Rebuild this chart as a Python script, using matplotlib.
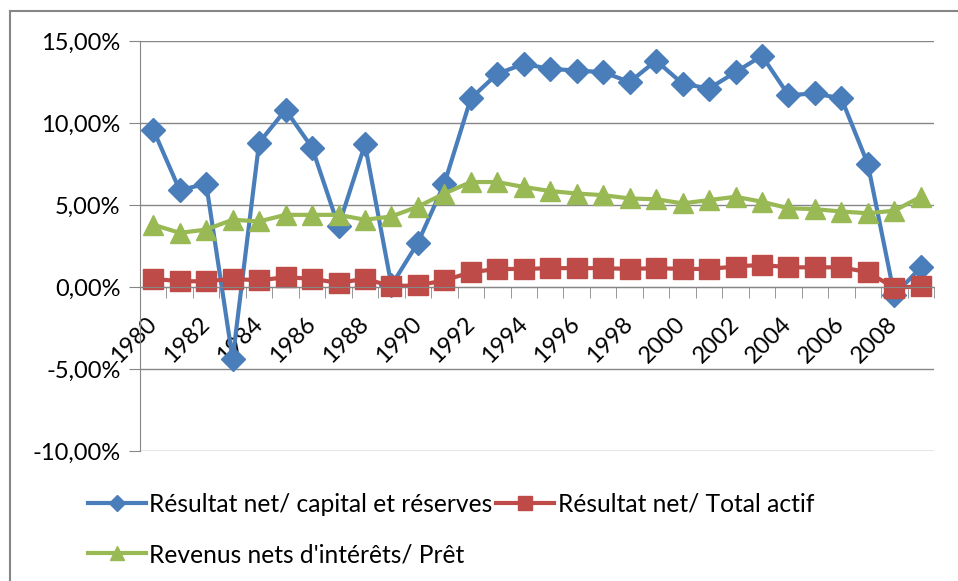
import matplotlib.pyplot as plt
from matplotlib.ticker import FuncFormatter
from matplotlib.lines import Line2D
import numpy as np

years = list(range(1980, 2010))
rn_capital = [9.6, 5.9, 6.3, -4.4, 8.8, 10.8, 8.5, 3.7, 8.7, 0.1,
              2.7, 6.3, 11.5, 13.0, 13.6, 13.3, 13.2, 13.1, 12.5, 13.8,
              12.4, 12.1, 13.1, 14.1, 11.7, 11.8, 11.5, 7.5, -0.5, 1.2]
rn_actif = [0.5, 0.35, 0.35, 0.5, 0.4, 0.6, 0.5, 0.25, 0.5, 0.05,
            0.1, 0.4, 0.9, 1.1, 1.1, 1.15, 1.15, 1.15, 1.1, 1.15,
            1.1, 1.1, 1.25, 1.35, 1.2, 1.2, 1.2, 0.9, -0.05, 0.05]
revenus_pret = [3.8, 3.3, 3.5, 4.1, 4.0, 4.4, 4.4, 4.4, 4.1, 4.3,
                4.9, 5.7, 6.4, 6.4, 6.1, 5.85, 5.7, 5.6, 5.4, 5.35,
                5.1, 5.3, 5.5, 5.2, 4.8, 4.75, 4.6, 4.5, 4.65, 5.5]

plt.rcParams['font.family'] = ['Lato', 'DejaVu Sans']
grey = '#868686'
fs = 17

fig = plt.figure(figsize=(9.58, 5.81), dpi=100)
ax = fig.add_axes([140/958, 1 - 451/581, 794/958, 410/581])

x = np.arange(len(years))
ax.plot(x, rn_capital, color='#4A7EBB', marker='D', ms=12, lw=3,
        label="Résultat net/ capital et réserves")
ax.plot(x, rn_actif, color='#BE4B48', marker='s', ms=15, lw=3,
        label="Résultat net/ Total actif")
ax.plot(x, revenus_pret, color='#98B954', marker='^', ms=14, lw=3,
        label="Revenus nets d'intérêts/ Prêt")

ax.set_xlim(-0.5, len(years) - 0.5)
ax.set_ylim(-10, 15)
ax.set_yticks(np.arange(-10, 16, 5))
ax.yaxis.set_major_formatter(FuncFormatter(lambda v, p: f"{v:.2f}%".replace('.', ',')))
ax.tick_params(axis='y', labelsize=fs, length=8, color=grey, pad=6)
ax.grid(axis='y', color=grey, lw=1)
ax.set_axisbelow(True)

for s in ['top', 'right']:
    ax.spines[s].set_visible(False)
ax.spines['left'].set_color(grey)
ax.spines['bottom'].set_color(grey)
ax.spines['bottom'].set_position(('data', 0))

ax.set_xticks(x[::2])
ax.set_xticklabels([str(y) for y in years[::2]], rotation=45, ha='right',
                   va='center', rotation_mode='anchor')
ax.set_xticks(np.arange(-0.5, len(years), 1), minor=True)
ax.tick_params(axis='x', which='major', length=0, labelsize=fs, pad=24)
ax.tick_params(axis='x', which='minor', length=8, color=grey)

# chart border (Excel frame)
fig.add_artist(Line2D([10/958, 10/958], [0, 1 - 11/581], transform=fig.transFigure,
                      color=grey, lw=1.5))
fig.add_artist(Line2D([10/958, 1], [1 - 11/581, 1 - 11/581], transform=fig.transFigure,
                      color=grey, lw=1.5))

h, l = ax.get_legend_handles_labels()
order = [0, 2, 1]
fig.legend([h[i] for i in order], [l[i] for i in order], ncol=2,
           loc='upper left', bbox_to_anchor=(88/958, 1 - 493/581), frameon=False,
           borderpad=0, borderaxespad=0,
           fontsize=fs + 0.7, handlelength=2.35, handletextpad=0.15, columnspacing=0.15,
           labelspacing=1.1, markerscale=0.7)

fig.savefig('out.png', dpi=100)
